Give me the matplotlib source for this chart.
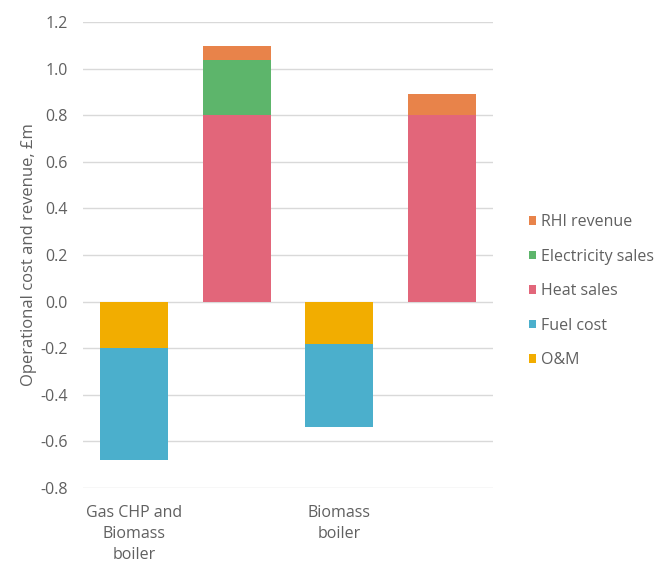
import matplotlib
matplotlib.use("Agg")
import matplotlib.pyplot as plt
from matplotlib.patches import Patch
import numpy as np

categories = ["Gas CHP and\nBiomass\nboiler", "", "Biomass\nboiler", ""]

om = [-0.20, 0.0, -0.18, 0.0]
fuel_cost = [-0.48, 0.0, -0.357, 0.0]
heat_sales = [0.0, 0.80, 0.0, 0.80]
electricity_sales = [0.0, 0.235, 0.0, 0.0]
rhi_revenue = [0.0, 0.06, 0.0, 0.09]

yticks = [-0.8, -0.6, -0.4, -0.2, 0.0, 0.2, 0.4, 0.6, 0.8, 1.0, 1.2]

colors = {
    "RHI revenue": "#E8834A",
    "Electricity sales": "#5DB56B",
    "Heat sales": "#E2667A",
    "Fuel cost": "#4BAFCC",
    "O&M": "#F2AD00",
}

plt.rcParams["font.family"] = ["Open Sans", "DejaVu Sans"]
text_color = "#606060"

fig = plt.figure(figsize=(6.56, 5.63), dpi=100)
ax = fig.add_axes([0.1265, 0.1332, 0.625, 0.8278])

x = np.arange(len(categories))
w = 0.66

# cost bars stack downward from zero
ax.bar(x, om, w, color=colors["O&M"], zorder=3)
ax.bar(x, fuel_cost, w, bottom=om, color=colors["Fuel cost"], zorder=3)

# revenue bars stack upward from zero
ax.bar(x, heat_sales, w, color=colors["Heat sales"], zorder=3)
b2 = np.array(heat_sales)
ax.bar(x, electricity_sales, w, bottom=b2, color=colors["Electricity sales"], zorder=3)
b3 = b2 + np.array(electricity_sales)
ax.bar(x, rhi_revenue, w, bottom=b3, color=colors["RHI revenue"], zorder=3)

ax.set_xlim(-0.5, len(categories) - 0.5)
ax.set_ylim(-0.8, 1.2)
ax.set_yticks(yticks)
ax.set_yticklabels([f"{v:.1f}" for v in yticks])
ax.set_xticks(x)
ax.set_xticklabels(categories)

ax.yaxis.grid(True, color="#D9D9D9", linewidth=1.0, zorder=0)
ax.set_axisbelow(True)
for s in ax.spines.values():
    s.set_visible(False)
ax.tick_params(axis="both", length=0, colors=text_color, labelsize=11.5)
ax.tick_params(axis="y", pad=11)
ax.tick_params(axis="x", pad=12)
for lbl in ax.get_xticklabels():
    lbl.set_linespacing(1.45)

ax.set_ylabel("Operational cost and revenue, £m", color=text_color, fontsize=12, labelpad=2)

handles = [Patch(facecolor=colors[k], edgecolor="none", label=k) for k in
           ["RHI revenue", "Electricity sales", "Heat sales", "Fuel cost", "O&M"]]
leg = fig.legend(handles=handles, loc="center left", bbox_to_anchor=(0.794, 0.483),
                 frameon=False, fontsize=11.5, handlelength=0.45, handleheight=0.45,
                 handletextpad=0.3, labelspacing=1.16, labelcolor=text_color,
                 borderpad=0.0)

fig.savefig("out.png", dpi=100)
